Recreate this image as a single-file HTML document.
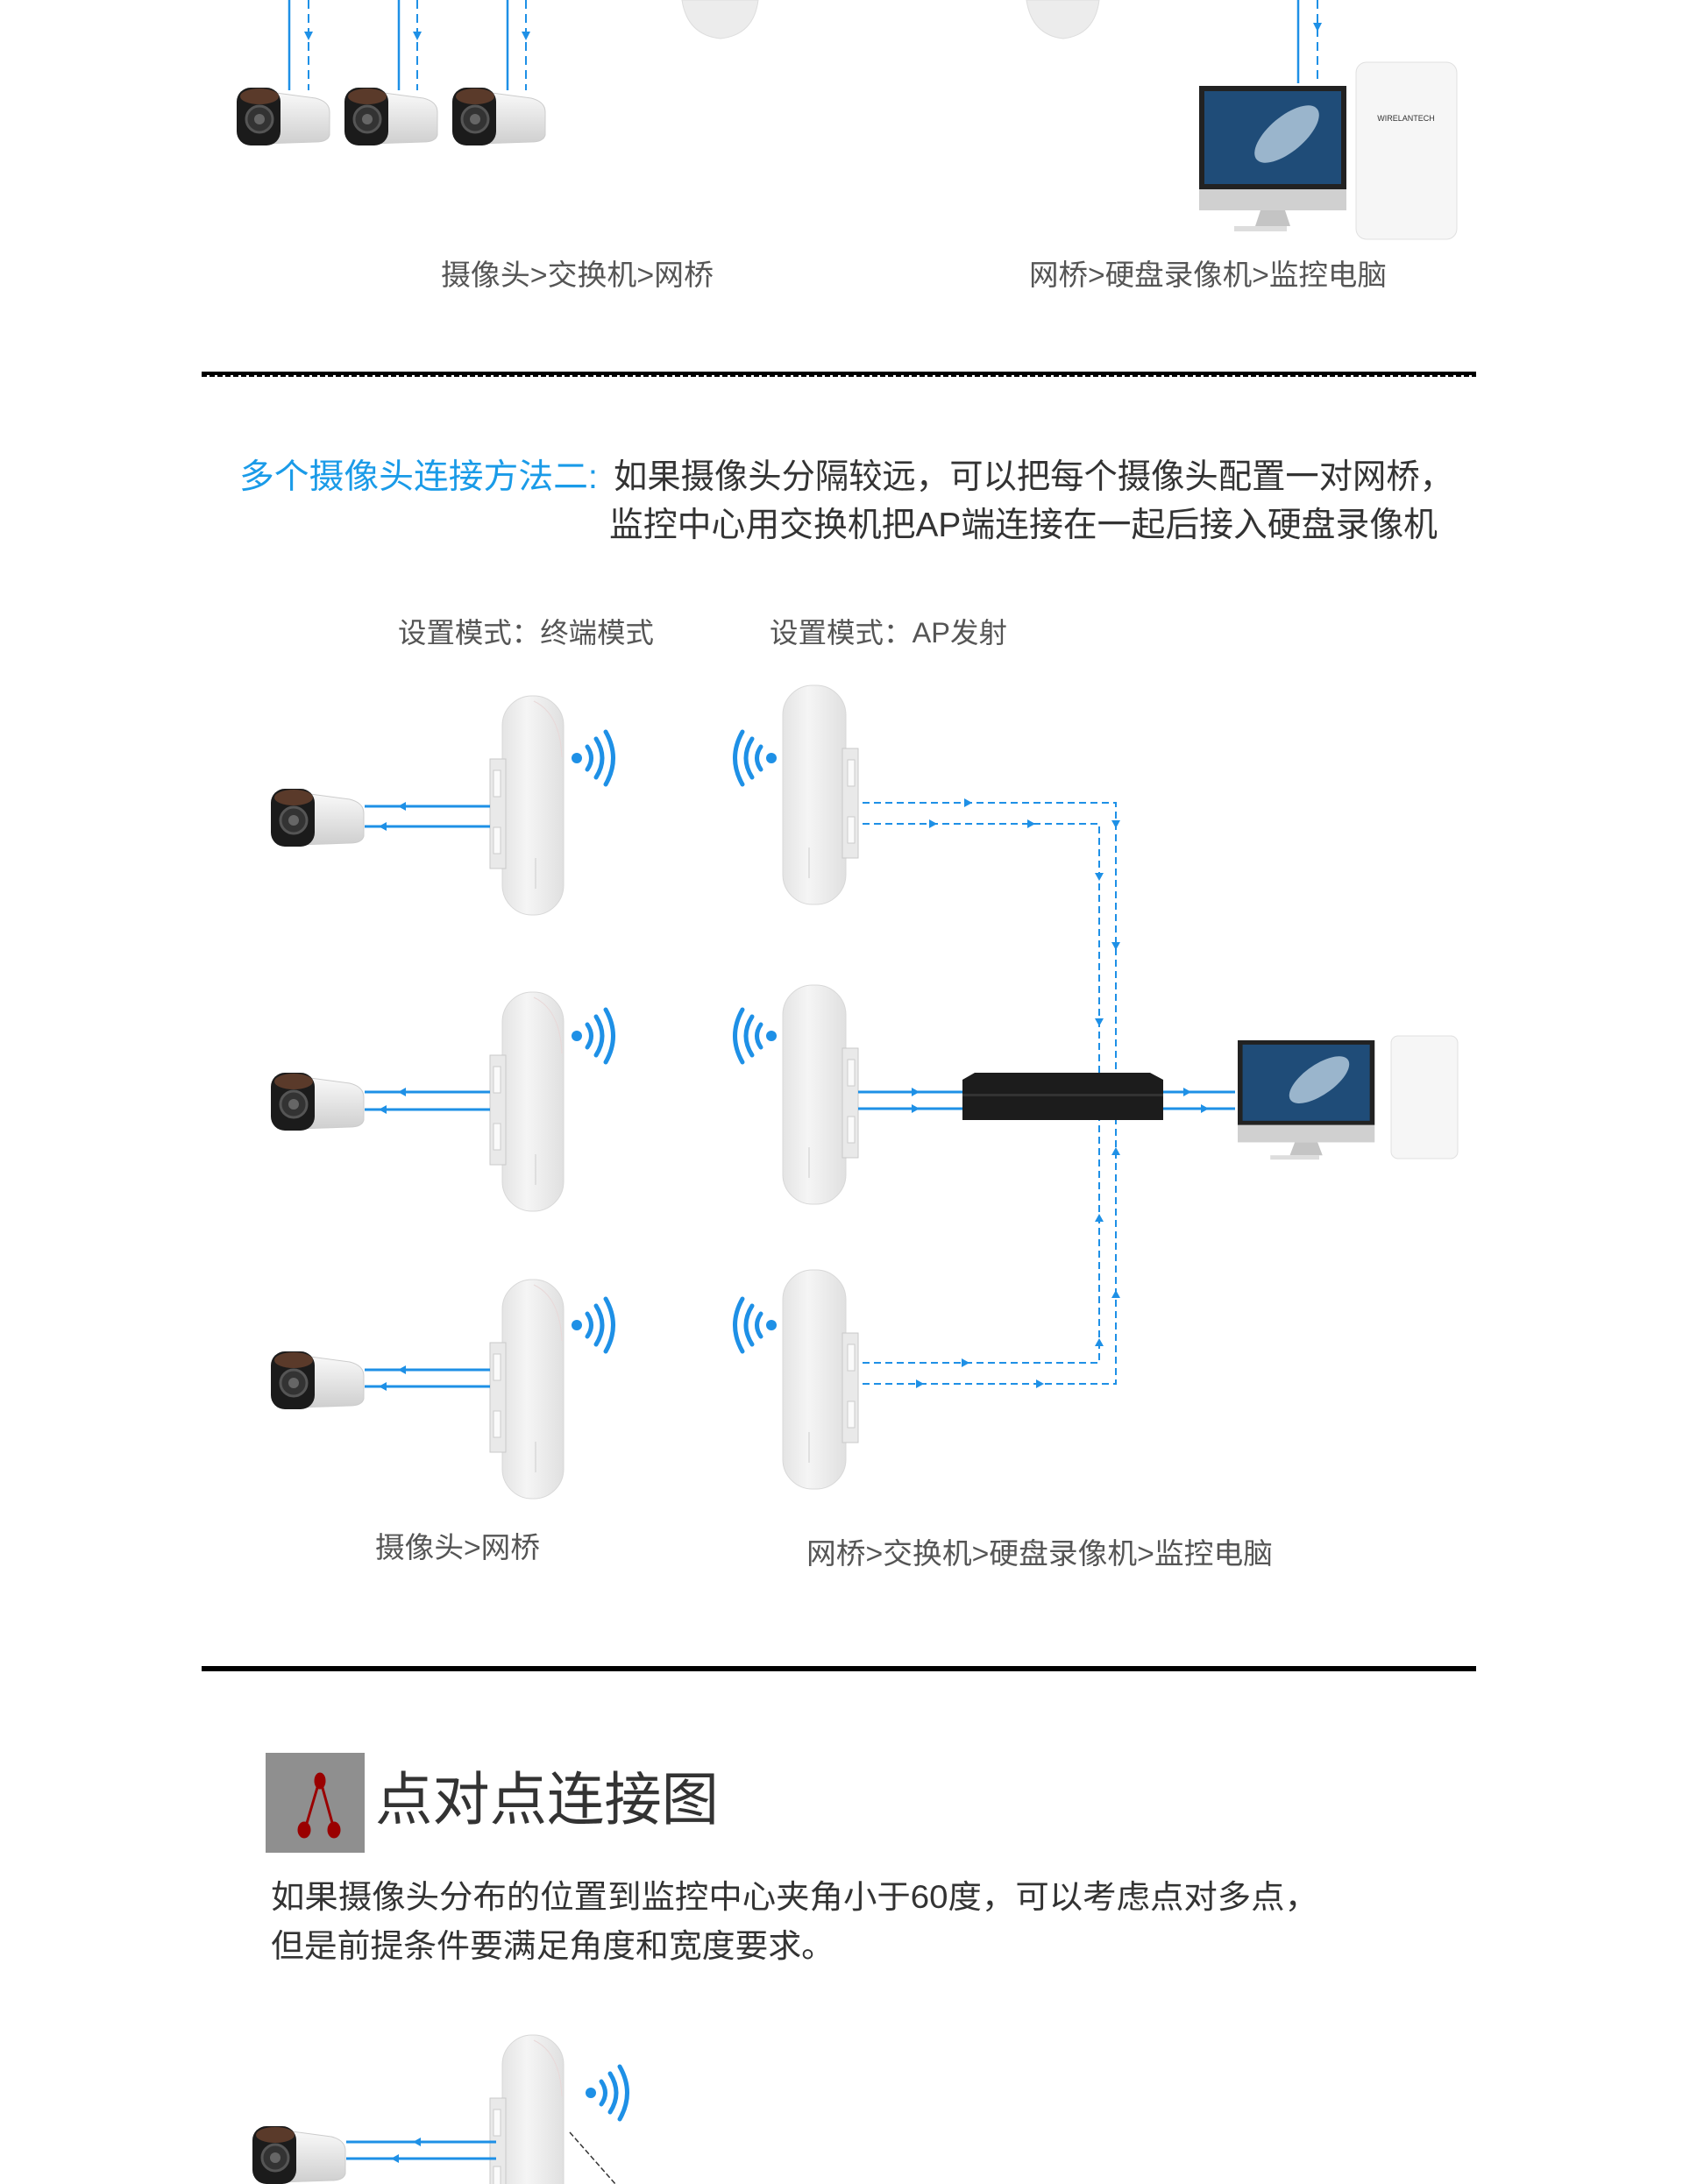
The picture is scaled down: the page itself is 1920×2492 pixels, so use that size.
<!DOCTYPE html>
<html><head><meta charset="utf-8"><style>
html,body{margin:0;padding:0;background:#fff;width:1920px;height:2492px;overflow:hidden}
svg{display:block}
text{font-family:"Liberation Sans","Noto Sans CJK SC",sans-serif}
</style></head><body>
<svg width="1920" height="2492" viewBox="0 0 1920 2492" xmlns="http://www.w3.org/2000/svg">
<defs>
<linearGradient id="bg" x1="0" x2="1"><stop offset="0" stop-color="#e4e4e4"/><stop offset=".4" stop-color="#f5f5f5"/><stop offset="1" stop-color="#e0e0e0"/></linearGradient>
<linearGradient id="cb" x1="0" y1="0" x2="0" y2="1"><stop offset="0" stop-color="#fafafa"/><stop offset="1" stop-color="#cfcfcf"/></linearGradient>
<g id="bridgeL">
 <rect x="14" y="0" width="70" height="250" rx="34" fill="url(#bg)" stroke="#d8d8d8"/>
 <path d="M50 6 Q80 20 82 70" stroke="#e8d8d8" fill="none"/>
 <rect x="0" y="72" width="18" height="125" fill="#e9e9e9" stroke="#c9c9c9"/>
 <rect x="4" y="85" width="8" height="30" fill="#fafafa" stroke="#ccc"/>
 <rect x="4" y="150" width="8" height="30" fill="#fafafa" stroke="#ccc"/>
 <path d="M52 185 v35" stroke="#ccc"/>
</g>
<g id="bridgeR">
 <rect x="0" y="0" width="72" height="250" rx="34" fill="url(#bg)" stroke="#d8d8d8"/>
 <rect x="68" y="72" width="18" height="125" fill="#e9e9e9" stroke="#c9c9c9"/>
 <rect x="74" y="85" width="8" height="30" fill="#fafafa" stroke="#ccc"/>
 <rect x="74" y="150" width="8" height="30" fill="#fafafa" stroke="#ccc"/>
 <path d="M30 185 v35" stroke="#ccc"/>
</g>
<g id="cam">
 <path d="M30 6 L90 14 Q106 18 106 30 L106 56 Q104 64 90 64 L30 66z" fill="url(#cb)" stroke="#ccc"/>
 <rect x="0" y="2" width="50" height="66" rx="16" fill="#1b1b1b"/>
 <ellipse cx="26" cy="12" rx="22" ry="9" fill="#5a3a2a"/>
 <circle cx="26" cy="38" r="15" fill="#333" stroke="#555" stroke-width="3"/>
 <circle cx="26" cy="38" r="6" fill="#666"/>
</g>
<g id="wifiR" fill="none" stroke="#1e90e6" stroke-width="5" stroke-linecap="round">
 <circle cx="6" cy="0" r="6" fill="#1e90e6" stroke="none"/>
 <path d="M18 -13 Q27 0 18 13"/><path d="M28 -22 Q42 0 28 22"/><path d="M39 -30 Q56 0 39 30"/>
</g>
<g id="wifiL" transform="scale(-1,1)"><use href="#wifiR"/></g>
<g id="imac">
 <rect x="0" y="0" width="168" height="118" fill="#222"/>
 <rect x="6" y="6" width="156" height="106" fill="#1f4c78"/>
 <ellipse cx="100" cy="55" rx="45" ry="20" fill="#9ab5cc" transform="rotate(-40 100 55)"/>
 <rect x="0" y="118" width="168" height="24" fill="#d0d0d0"/>
 <path d="M70 142 h28 l6 18 h-40z" fill="#c4c4c4"/>
 <rect x="40" y="160" width="60" height="6" fill="#ddd"/>
</g>
</defs>

<g stroke="#1e90e6" stroke-width="2.5" fill="none">
 <line x1="330" y1="0" x2="330" y2="103"/><line x1="455" y1="0" x2="455" y2="103"/><line x1="579" y1="0" x2="579" y2="103"/>
 <line x1="1481" y1="0" x2="1481" y2="95"/>
</g>
<g stroke="#1e90e6" stroke-width="2" stroke-dasharray="10,6" fill="none">
 <line x1="352" y1="0" x2="352" y2="103"/><line x1="476" y1="0" x2="476" y2="103"/><line x1="600" y1="0" x2="600" y2="103"/>
 <line x1="1503" y1="0" x2="1503" y2="95"/>
</g>
<g fill="#1e90e6">
 <path d="M347 36h10l-5 10z"/><path d="M471 36h10l-5 10z"/><path d="M595 36h10l-5 10z"/><path d="M1498 26h10l-5 10z"/>
</g>
<use href="#cam" x="270" y="98"/><use href="#cam" x="393" y="98"/><use href="#cam" x="516" y="98"/>
<path d="M778 0 h87 q-5 40 -43 44 q-38 -4 -44 -44z" fill="#ececec" stroke="#ddd"/>
<path d="M1171 0 h83 q-5 40 -41 44 q-36 -4 -42 -44z" fill="#ececec" stroke="#ddd"/>
<use href="#imac" x="1368" y="98"/>
<rect x="1547" y="71" width="115" height="202" rx="12" fill="#f6f6f6" stroke="#e0e0e0"/>
<text x="1604" y="138" font-size="9" text-anchor="middle" fill="#333">WIRELANTECH</text>
<text x="503" y="325" font-size="33" fill="#555" textLength="311" lengthAdjust="spacingAndGlyphs">摄像头&gt;交换机&gt;网桥</text>
<text x="1174" y="325" font-size="33" fill="#555" textLength="408" lengthAdjust="spacingAndGlyphs">网桥&gt;硬盘录像机&gt;监控电脑</text>
<line x1="230" y1="426" x2="1684" y2="426" stroke="#000" stroke-width="4"/>
<line x1="230" y1="429" x2="1684" y2="429" stroke="#000" stroke-width="2" stroke-dasharray="6,3"/>

<text x="273" y="557" font-size="39" fill="#1a9be8" textLength="409" lengthAdjust="spacingAndGlyphs">多个摄像头连接方法二:</text>
<text x="700" y="557" font-size="39" fill="#333" textLength="958" lengthAdjust="spacingAndGlyphs">如果摄像头分隔较远，可以把每个摄像头配置一对网桥，</text>
<text x="695" y="612" font-size="39" fill="#333" textLength="945" lengthAdjust="spacingAndGlyphs">监控中心用交换机把AP端连接在一起后接入硬盘录像机</text>
<text x="454" y="733" font-size="32" fill="#555" textLength="292" lengthAdjust="spacingAndGlyphs">设置模式：终端模式</text>
<text x="878" y="733" font-size="32" fill="#555" textLength="271" lengthAdjust="spacingAndGlyphs">设置模式：AP发射</text>

<use href="#bridgeL" x="559" y="794"/><use href="#bridgeL" x="559" y="1132"/><use href="#bridgeL" x="559" y="1460"/>
<use href="#bridgeR" x="893" y="782"/><use href="#bridgeR" x="893" y="1124"/><use href="#bridgeR" x="893" y="1449"/>
<use href="#wifiR" x="652" y="865"/><use href="#wifiR" x="652" y="1182"/><use href="#wifiR" x="652" y="1512"/>
<use href="#wifiL" x="886" y="865"/><use href="#wifiL" x="886" y="1182"/><use href="#wifiL" x="886" y="1512"/>
<use href="#cam" x="309" y="898"/><use href="#cam" x="309" y="1222"/><use href="#cam" x="309" y="1540"/>
<g stroke="#1e90e6" stroke-width="3">
 <line x1="416" y1="920" x2="559" y2="920"/><line x1="416" y1="943" x2="559" y2="943"/>
 <line x1="416" y1="1246" x2="559" y2="1246"/><line x1="416" y1="1266" x2="559" y2="1266"/>
 <line x1="416" y1="1563" x2="559" y2="1563"/><line x1="416" y1="1582" x2="559" y2="1582"/>
 <line x1="979" y1="1246" x2="1098" y2="1246"/><line x1="979" y1="1265" x2="1098" y2="1265"/>
 <line x1="1327" y1="1246" x2="1409" y2="1246"/><line x1="1327" y1="1265" x2="1409" y2="1265"/>
</g>
<g fill="#1e90e6">
 <path d="M463 915v10l-9-5z"/><path d="M441 938v10l-9-5z"/>
 <path d="M463 1241v10l-9-5z"/><path d="M441 1261v10l-9-5z"/>
 <path d="M463 1558v10l-9-5z"/><path d="M441 1577v10l-9-5z"/>
 <path d="M1040 1241v10l9-5z"/><path d="M1040 1260v10l9-5z"/>
 <path d="M1350 1241v10l9-5z"/><path d="M1370 1260v10l9-5z"/>
</g>
<g stroke="#1e90e6" stroke-width="2" stroke-dasharray="8,5" fill="none">
 <polyline points="984,916 1273,916 1273,1225"/>
 <polyline points="984,940 1254,940 1254,1225"/>
 <polyline points="984,1555 1254,1555 1254,1278"/>
 <polyline points="984,1579 1273,1579 1273,1278"/>
</g>
<g fill="#1e90e6">
 <path d="M1100 911v10l9-5z"/><path d="M1060 935v10l9-5z"/><path d="M1172 935v10l9-5z"/>
 <path d="M1268 936h10l-5 9z"/><path d="M1268 1075h10l-5 9z"/><path d="M1249 996h10l-5 9z"/><path d="M1249 1162h10l-5 9z"/>
 <path d="M1249 1536h10l-5 -9z"/><path d="M1249 1394h10l-5 -9z"/><path d="M1268 1481h10l-5 -9z"/><path d="M1268 1318h10l-5 -9z"/>
 <path d="M1097 1550v10l9-5z"/><path d="M1045 1574v10l9-5z"/><path d="M1182 1574v10l9-5z"/>
</g>
<path d="M1098 1232 l14 -8 h200 l15 8 v46 h-229z" fill="#1c1c1c"/>
<rect x="1098" y="1248" width="229" height="3" fill="#333"/>
<use href="#imac" transform="translate(1412 1187) scale(0.93 0.82)"/>
<rect x="1587" y="1182" width="76" height="140" rx="8" fill="#f6f6f6" stroke="#e0e0e0"/>
<text x="428" y="1777" font-size="33" fill="#555" textLength="188" lengthAdjust="spacingAndGlyphs">摄像头&gt;网桥</text>
<text x="920" y="1784" font-size="33" fill="#555" textLength="532" lengthAdjust="spacingAndGlyphs">网桥&gt;交换机&gt;硬盘录像机&gt;监控电脑</text>
<rect x="230" y="1901" width="1454" height="6" fill="#000"/>

<rect x="303" y="2000" width="113" height="114" fill="#8f8f8f"/>
<g stroke="#9a0000" stroke-width="3" fill="#9a0000">
 <line x1="364" y1="2033" x2="348" y2="2087"/><line x1="366" y1="2033" x2="381" y2="2087"/>
 <ellipse cx="365" cy="2032" rx="5" ry="8"/><ellipse cx="347" cy="2088" rx="6" ry="8"/><ellipse cx="381" cy="2088" rx="6" ry="8"/>
</g>
<text x="428" y="2076" font-size="66" fill="#333" textLength="392" lengthAdjust="spacingAndGlyphs">点对点连接图</text>
<text x="309" y="2177" font-size="37" fill="#333" textLength="1195" lengthAdjust="spacingAndGlyphs">如果摄像头分布的位置到监控中心夹角小于60度，可以考虑点对多点，</text>
<text x="309" y="2233" font-size="37" fill="#333" textLength="643" lengthAdjust="spacingAndGlyphs">但是前提条件要满足角度和宽度要求。</text>
<use href="#bridgeL" x="559" y="2322"/>
<use href="#wifiR" x="668" y="2388"/>
<use href="#cam" x="288" y="2424"/>
<g stroke="#1e90e6" stroke-width="3"><line x1="395" y1="2444" x2="566" y2="2444"/><line x1="395" y1="2463" x2="566" y2="2463"/></g>
<g fill="#1e90e6"><path d="M480 2439v10l-9-5z"/><path d="M455 2458v10l-9-5z"/></g>
<line x1="650" y1="2433" x2="702" y2="2492" stroke="#333" stroke-width="1.5" stroke-dasharray="6,3"/>
</svg>
</body></html>
